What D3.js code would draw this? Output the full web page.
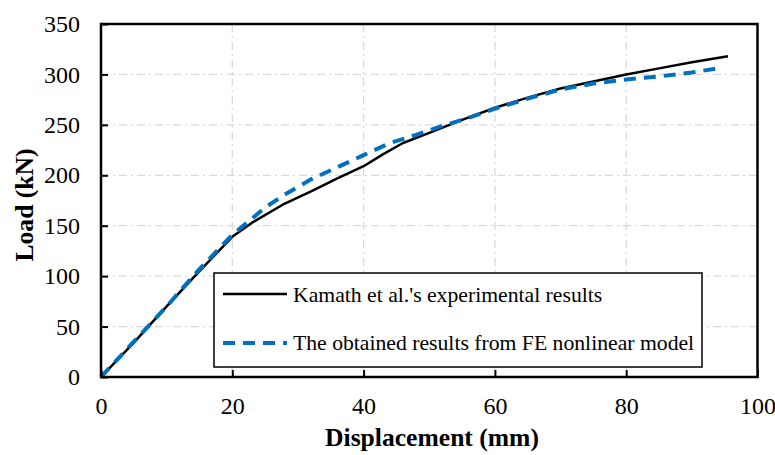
<!DOCTYPE html>
<html><head><meta charset="utf-8">
<script src="https://cdn.jsdelivr.net/npm/d3@7"></script>
<style>body{margin:0;background:#fff}svg{display:block}</style>
</head><body><svg id="c" width="775" height="455"></svg>
<script>
const xTicks=[0,20,40,60,80,100];
const yTicks=[0,50,100,150,200,250,300,350];
const expDisp=[0,5,10,15,20,23,28,32,36,40,43,46,50,55,60,65,70,75,80,85,90,95.5];
const expLoad=[0,34,70,105,139,153,172,184,197,209,221,232,242,255,267,277,286,293,300,306,312,318];
const feDisp=[0,5,10,15,20,23,25,28,32,36,40,44,48,52,56,60,65,70,75,80,85,90,94];
const feLoad=[0,35,70,107,141,157,168,181,196,208,220,232,240,249,257,266,276,285,291,295,298,302,306];
const seriesNames=["Kamath et al.'s experimental results","The obtained results from FE nonlinear model"];

const FF="Liberation Serif";
const svg=d3.select("#c").attr("font-family",FF);
const L=101,R=757.5,T=24,B=377;
const x=d3.scaleLinear().domain([0,100]).range([L,R]);
const y=d3.scaleLinear().domain([0,350]).range([B,T]);

const g=svg.append("g");
g.selectAll(".gx").data(xTicks.filter(d=>d>0&&d<100)).enter().append("line")
 .attr("x1",d=>x(d)).attr("x2",d=>x(d)).attr("y1",T).attr("y2",B)
 .attr("stroke","#d9d9d9").attr("stroke-width",1.3).attr("stroke-dasharray","8,4,2,4");
g.selectAll(".gy").data(yTicks.filter(d=>d>0&&d<350)).enter().append("line")
 .attr("x1",L).attr("x2",R).attr("y1",d=>y(d)).attr("y2",d=>y(d))
 .attr("stroke","#d9d9d9").attr("stroke-width",1.3).attr("stroke-dasharray","8,4,2,4");

const line=d3.line().x(d=>x(d[0])).y(d=>y(d[1]));
svg.append("path").datum(expDisp.map((d,i)=>[d,expLoad[i]])).attr("d",line)
 .attr("fill","none").attr("stroke","#000").attr("stroke-width",2.5).attr("stroke-linejoin","round");
svg.append("path").datum(feDisp.map((d,i)=>[d,feLoad[i]])).attr("d",line)
 .attr("fill","none").attr("stroke","#0070C0").attr("stroke-width",4).attr("stroke-dasharray","12,8");

const xa=svg.append("g").attr("transform",`translate(0,${B})`)
 .call(d3.axisBottom(x).tickValues(xTicks).tickSizeInner(-7).tickSizeOuter(0).tickPadding(20));
const ya=svg.append("g").attr("transform",`translate(${L},0)`)
 .call(d3.axisLeft(y).tickValues(yTicks).tickSizeInner(-7).tickSizeOuter(0).tickPadding(21));
[xa,ya].forEach(a=>{a.attr("font-family",FF).attr("font-size",24);a.select(".domain").remove();a.selectAll("line").attr("stroke","#000").attr("stroke-width",2);
 a.selectAll("text").attr("fill","#000");});
svg.append("rect").attr("x",L).attr("y",T).attr("width",R-L).attr("height",B-T)
 .attr("fill","none").attr("stroke","#000").attr("stroke-width",2.5);

const lg=svg.append("g");
lg.append("rect").attr("x",214).attr("y",273).attr("width",488).attr("height",94)
 .attr("fill","#fff").attr("stroke","#000").attr("stroke-width",1.5);
const lineRows=[294,343], textRows=[302,350];
lg.append("line").attr("x1",223).attr("x2",287).attr("y1",lineRows[0]).attr("y2",lineRows[0]).attr("stroke","#000").attr("stroke-width",2.5);
lg.append("line").attr("x1",223).attr("x2",287).attr("y1",lineRows[1]).attr("y2",lineRows[1]).attr("stroke","#0070C0").attr("stroke-width",4).attr("stroke-dasharray","12,8");
seriesNames.forEach((s,i)=>lg.append("text").attr("x",293).attr("y",textRows[i]).attr("font-size",21.7).text(s));

svg.append("text").attr("x",432).attr("y",446).attr("text-anchor","middle").attr("font-size",25.6).attr("font-weight","bold").text("Displacement (mm)");
svg.append("text").attr("transform","translate(33,205) rotate(-90)").attr("text-anchor","middle").attr("font-size",25.6).attr("font-weight","bold").text("Load (kN)");
</script></body></html>
